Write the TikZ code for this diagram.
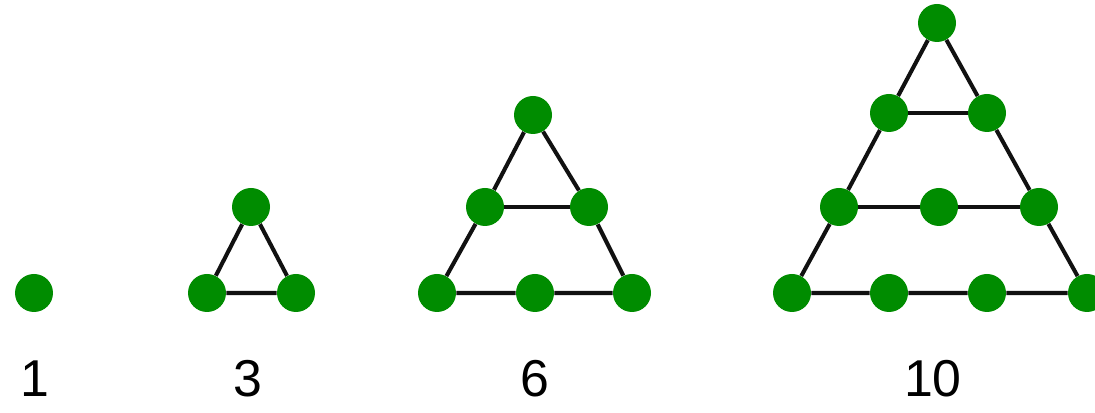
\documentclass[tikz,border=0pt]{standalone}
\usepackage{fontspec}
\setmainfont{Liberation Sans}
\definecolor{dotgreen}{HTML}{008C00}
\definecolor{edgeblack}{HTML}{111111}
\usetikzlibrary{positioning}

\begin{document}
\begin{tikzpicture}[
    dot/.style={circle,fill=dotgreen,inner sep=0pt,minimum size=0.76cm},
    link/.style={line width=2.3pt,edgeblack},
    count/.style={anchor=base,font=\fontsize{29.5}{30}\selectfont}]
  \useasboundingbox (0,0) rectangle (21.9,8.26);
  % T1
  \node[dot] (a1) at (0.68,2.40) {};
  \node[count] (n1) at (0.70,0.32) {1};
  % T2
  \node[dot] (b1) at (5.02,4.12) {};
  \node[dot] (b2) at (4.14,2.40) {};
  \node[dot] (b3) at (5.92,2.40) {};
  \draw[link] (b1) -- (b2) -- (b3) -- (b1);
  \node[count] (n3) at (4.96,0.32) {3};
  % T3
  \node[dot] (c1) at (10.66,5.96) {};
  \node[dot] (c2) at (9.70,4.12) {};
  \node[dot] (c3) at (11.78,4.12) {};
  \node[dot] (c4) at (8.74,2.40) {};
  \node[dot] (c5) at (10.70,2.40) {};
  \node[dot] (c6) at (12.64,2.40) {};
  \draw[link] (c1) -- (c2) -- (c4) -- (c5) -- (c6) -- (c3) -- (c1);
  \draw[link] (c2) -- (c3);
  \node[count] (n6) at (10.70,0.32) {6};
  % T4
  \node[dot] (d1) at (18.74,7.80) {};
  \node[dot] (d2) at (17.78,6.00) {};
  \node[dot] (d3) at (19.74,6.00) {};
  \node[dot] (d4) at (16.78,4.12) {};
  \node[dot] (d5) at (18.78,4.12) {};
  \node[dot] (d6) at (20.78,4.12) {};
  \node[dot] (d7) at (15.84,2.40) {};
  \node[dot] (d8) at (17.78,2.40) {};
  \node[dot] (d9) at (19.74,2.40) {};
  \node[dot] (d10) at (21.74,2.40) {};
  \draw[link] (d1) -- (d2) -- (d4) -- (d7) -- (d8) -- (d9) -- (d10) -- (d6) -- (d3) -- (d1);
  \draw[link] (d2) -- (d3);
  \draw[link] (d4) -- (d5) -- (d6);
  \node[count] (n10) at (18.66,0.32) {10};
\end{tikzpicture}
\end{document}
